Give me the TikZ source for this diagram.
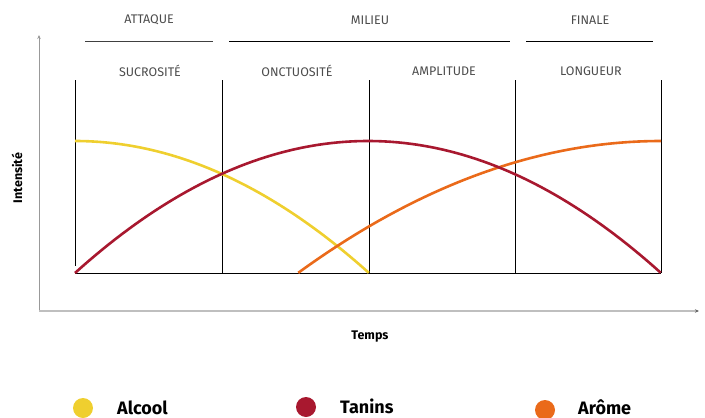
\documentclass[tikz,border=0pt]{standalone}
\usepackage{fontspec}
\setmainfont{Fira Sans}
\usetikzlibrary{arrows.meta}
\definecolor{alcool}{HTML}{EFCF2F}
\definecolor{tanins}{HTML}{A8182F}
\definecolor{arome}{HTML}{EA6A1A}
\tikzset{
  phase/.style={font=\fontsize{12.5}{14}\selectfont, text=black!70},
  legende/.style={font=\fontsize{18}{20}\selectfont\bfseries, anchor=base west, inner sep=0pt},
  courbe/.style={line width=2.6pt},
}
\begin{document}
\begin{tikzpicture}[x=1pt, y=-1pt]
		%%%%% START %%%%%
		\useasboundingbox (0, 0) rectangle (705, 418);
		
		% axes
		\draw[black!40, line width=0.8pt, -{Stealth[length=4pt,width=3.5pt]}] (39, 311) -- (39, 35);
		\draw[black!25, line width=1.4pt, -{Stealth[length=4pt,width=3.5pt,black!60]}] (39, 311) -- (699, 311);
		\node[font=\fontsize{12.5}{14}\selectfont\bfseries, rotate=90] (intensite) at (17, 178) {Intensité};
		\node[font=\fontsize{12.5}{14}\selectfont\bfseries] (temps) at (370, 337) {Temps};
		
		% phases
		\node[phase] (attaque) at (149, 20) {ATTAQUE};
		\node[phase] (milieu) at (370, 20) {MILIEU};
		\node[phase] (finale) at (590, 20) {FINALE};
		\draw[black!75, line width=1pt] (85, 41) -- (213, 41);
		\draw[line width=1pt] (229, 41) -- (510, 41);
		\draw[line width=1pt] (526, 41) -- (653, 41);
		
		\node[phase] (sucrosite) at (150, 71) {SUCROSITÉ};
		\node[phase] (onctuosite) at (297, 71) {ONCTUOSITÉ};
		\node[phase] (amplitude) at (444, 71) {AMPLITUDE};
		\node[phase] (longueur) at (591, 71) {LONGUEUR};
		
		% grille
		\draw[line width=0.9pt] (75, 80) -- (75, 266);
		\foreach \x in {222, 369, 515, 661}
			\draw[line width=0.9pt] (\x, 80) -- (\x, 273);
		\draw[line width=1pt] (75, 273) -- (661, 273);
		
		% courbes
		\draw[courbe, alcool] plot[domain=0:1, samples=60, variable=\t] ({75+294*\t}, {141+132*\t*\t});
		\draw[courbe, arome] plot[domain=0:1, samples=60, variable=\t] ({661-363*\t}, {141+132*\t*\t});
		\draw[courbe, tanins] plot[domain=-1:1, samples=90, variable=\t] ({368+293*\t}, {141+132*\t*\t});
		
		% legende
		\fill[alcool] (83, 408) circle (10);
		\node[legende] (alcool) at (117, 414) {Alcool};
		\fill[tanins] (306, 407) circle (10);
		\node[legende] (tanins) at (340, 413) {Tanins};
		\fill[arome] (545, 410) circle (10);
		\node[legende] (arome) at (578, 414) {Arôme};
		
		%%%%% END %%%%%
	\end{tikzpicture}
\end{document}
